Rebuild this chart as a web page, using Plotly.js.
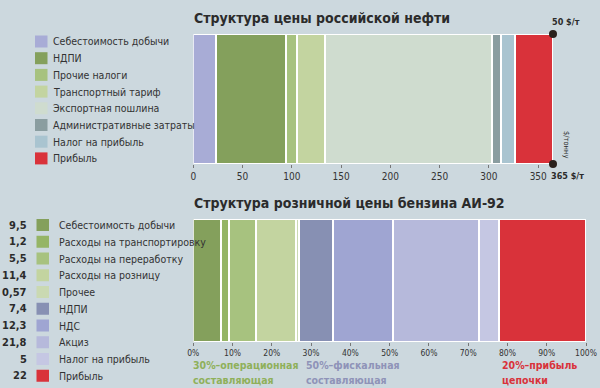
<!DOCTYPE html>
<html><head><meta charset="utf-8">
<script src="https://cdn.plot.ly/plotly-3.0.1.min.js"></script>
<style>html,body{margin:0;padding:0;background:#ccd8de;}#chart{width:600px;height:388px;}</style>
</head><body><div id="chart"></div>
<script>
// ---- Oil price structure ($/t) ----
const oilCategories = ['Себестоимость добычи','НДПИ','Прочие налоги','Транспортный тариф','Экспортная пошлина','Административные затраты','Налог на прибыль','Прибыль'];
const oilValues = [23, 71, 11, 29, 169, 9, 14, 39];
const oilColors = ['#a8acd6','#84a05c','#a7c27f','#c3d4a0','#cfdccf','#8a9da0','#a9c4d0','#d9323a'];
const oilTicks = [0, 50, 100, 150, 200, 250, 300, 350];
const oilMarkLabels = ['50 $/т', '365 $/т'];

// ---- Gasoline AI-92 retail price structure ----
const gasCategories = ['Себестоимость добычи','Расходы на транспортировку','Расходы на переработку','Расходы на розницу','Прочее','НДПИ','НДС','Акциз','Налог на прибыль','Прибыль'];
const gasLegendNumbers = ['9,5','1,2','5,5','11,4','0,57','7,4','12,3','21,8','5','22'];
const gasShares = [7.0, 2.2, 6.8, 10.2, 0.6, 8.7, 15.3, 22.0, 5.0, 22.2];
const gasColors = ['#84a05c','#95b566','#a7c27f','#c3d4a0','#cad9b2','#8790b3','#9fa5d2','#b6b9db','#c5c7e3','#d9323a'];
const gasTicks = [0,10,20,30,40,50,60,70,80,90,100];
const gasGroups = [
  {lines:['30%–операционная','составляющая'], color:'#8fb05a', x:0},
  {lines:['50%–фискальная','составляющая'], color:'#8f93b8', x:28.7},
  {lines:['20%–прибыль','цепочки'], color:'#d9323a', x:78.5}
];

const FONT = '"DejaVu Sans Condensed", "Liberation Sans Narrow", sans-serif';
const W = 600, H = 388;
const px = v => v / W, py = v => 1 - v / H;

const traces = [];
oilCategories.forEach((c, i) => {
  traces.push({type:'bar', orientation:'h', name:c, x:[oilValues[i]], y:[0], width:[1],
    marker:{color:oilColors[i], line:{color:'#ffffff', width:2}},
    xaxis:'x', yaxis:'y', hoverinfo:'x+name', showlegend:false});
});
const oilTotal = oilValues.reduce((a, b) => a + b, 0);
traces.push({type:'scatter', mode:'markers', x:[oilTotal, oilTotal], y:[0.5, -0.5],
  marker:{color:'#2a211c', size:8}, cliponaxis:false, xaxis:'x', yaxis:'y', showlegend:false, hoverinfo:'skip'});

gasCategories.forEach((c, i) => {
  traces.push({type:'bar', orientation:'h', name:c, x:[gasShares[i]], y:[0], width:[1],
    marker:{color:gasColors[i], line:{color:'#ffffff', width:2}},
    xaxis:'x2', yaxis:'y2', hoverinfo:'x+name', showlegend:false});
});

const shapes = [];
const annotations = [];

// Titles
annotations.push({xref:'paper', yref:'paper', x:px(192), y:py(18), xanchor:'left', yanchor:'middle',
  text:'<b>Структура цены российской нефти</b>', showarrow:false, font:{family:FONT, size:14, color:'#2b2b2b'}});
annotations.push({xref:'paper', yref:'paper', x:px(192), y:py(203), xanchor:'left', yanchor:'middle',
  text:'<b>Структура розничной цены бензина АИ-92</b>', showarrow:false, font:{family:FONT, size:14, color:'#2b2b2b'}});

// Oil legend
oilCategories.forEach((c, i) => {
  const yc = 41.5 + i * 16.7;
  shapes.push({type:'rect', xref:'paper', yref:'paper', x0:px(35), x1:px(47.5), y0:py(yc - 6), y1:py(yc + 6),
    fillcolor:oilColors[i], line:{width:0}});
  annotations.push({xref:'paper', yref:'paper', x:px(51), y:py(yc), xanchor:'left', yanchor:'middle',
    text:c, showarrow:false, font:{family:FONT, size:10.5, color:'#333'}});
});

// Gas legend
gasCategories.forEach((c, i) => {
  const yc = 225 + i * 16.75;
  shapes.push({type:'rect', xref:'paper', yref:'paper', x0:px(36.5), x1:px(49), y0:py(yc - 6), y1:py(yc + 6),
    fillcolor:gasColors[i], line:{width:0}});
  annotations.push({xref:'paper', yref:'paper', x:px(57), y:py(yc), xanchor:'left', yanchor:'middle',
    text:c, showarrow:false, font:{family:FONT, size:10.5, color:'#333'}});
  annotations.push({xref:'paper', yref:'paper', x:px(28.5), y:py(yc), xanchor:'right', yanchor:'middle',
    text:'<b>' + gasLegendNumbers[i] + '</b>', showarrow:false, font:{family:FONT, size:11, color:'#2b2b2b'}});
});

// Oil end markers labels
annotations.push({xref:'x', yref:'y', x:oilTotal, y:0.5, xanchor:'left', yanchor:'bottom', xshift:-3, yshift:5,
  text:'<b>' + oilMarkLabels[0] + '</b>', showarrow:false, font:{family:FONT, size:9, color:'#2b2b2b'}});
annotations.push({xref:'x', yref:'y', x:oilTotal, y:-0.5, xanchor:'left', yanchor:'top', xshift:-4, yshift:-5,
  text:'<b>' + oilMarkLabels[1] + '</b>', showarrow:false, font:{family:FONT, size:9, color:'#2b2b2b'}});
annotations.push({xref:'paper', yref:'paper', x:px(567), y:py(144), xanchor:'center', yanchor:'middle', textangle:90,
  text:'$/тонну', showarrow:false, font:{family:FONT, size:7.5, color:'#2b2b2b'}});

// Gas group labels
gasGroups.forEach(g => {
  g.lines.forEach((ln, j) => {
    annotations.push({xref:'x2', yref:'paper', x:g.x, y:py(365 + j * 14.5), xanchor:'left', yanchor:'middle', align:'left',
      text:'<b>' + ln + '</b>', showarrow:false, xshift:-2, font:{family:FONT, size:10.5, color:g.color}});
  });
});

const layout = {
  width:W, height:H, margin:{l:0, r:0, t:0, b:0},
  paper_bgcolor:'#ccd8de', plot_bgcolor:'#ccd8de',
  barmode:'stack', bargap:0, showlegend:false,
  font:{family:FONT, color:'#333'},
  xaxis:{domain:[px(193.3), px(553)], range:[0, oilTotal], tickvals:oilTicks, ticks:'outside', ticklen:3,
    tickcolor:'#777', showgrid:false, zeroline:false, showline:false, anchor:'y',
    tickfont:{family:FONT, size:10, color:'#333'}, fixedrange:true},
  yaxis:{domain:[py(164), py(34)], range:[-0.5, 0.5], visible:false, fixedrange:true},
  xaxis2:{domain:[px(193.3), px(586)], range:[0, 100], tickvals:gasTicks, ticktext:gasTicks.map(t => t + '%'),
    ticks:'outside', ticklen:3, tickcolor:'#777', showgrid:false, zeroline:false, showline:false, anchor:'y2',
    tickfont:{family:FONT, size:8.5, color:'#333'}, fixedrange:true},
  yaxis2:{domain:[py(342), py(219)], range:[-0.5, 0.5], visible:false, fixedrange:true},
  shapes:shapes, annotations:annotations
};

Plotly.newPlot('chart', traces, layout, {displayModeBar:false, staticPlot:true});
</script>
</body></html>
